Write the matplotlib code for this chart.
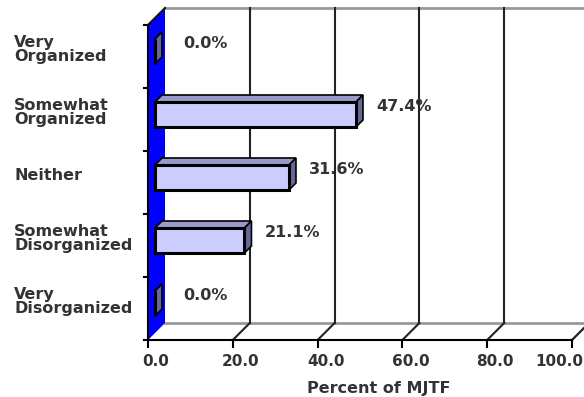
import matplotlib
matplotlib.use("Agg")
import matplotlib.pyplot as plt
from matplotlib.patches import Polygon

plt.rcParams['font.family'] = ['DejaVu Sans']

categories = ["Very\nOrganized", "Somewhat\nOrganized", "Neither",
              "Somewhat\nDisorganized", "Very\nDisorganized"]
values = [0.0, 47.4, 31.6, 21.1, 0.0]
value_labels = ["0.0%", "47.4%", "31.6%", "21.1%", "0.0%"]
xticks = [0, 20, 40, 60, 80, 100]
xtick_labels = ["0.0", "20.0", "40.0", "60.0", "80.0", "100.0"]
xlabel = "Percent of MJTF"

W, H = 584, 397
fig = plt.figure(figsize=(W / 100, H / 100), dpi=100)
x0px, x1px, ytop, ybot = 148, 572, 25, 340
ax = fig.add_axes([x0px / W, (H - ybot) / H, (x1px - x0px) / W, (ybot - ytop) / H])
ax.set_xlim(0, 100)
ax.set_ylim(4.5, -0.5)
ax.axis('off')

pxx = (x1px - x0px) / 100.0
pxy = (ybot - ytop) / 5.0
wdx, wdy = 17 / pxx, -17 / pxy        # wall depth
bfx, bfy = 7 / pxx, -5 / pxy          # bar front-face offset
bdx, bdy = 7 / pxx, -7 / pxy          # bar depth
bh = 25 / pxy                          # bar face height
txt = '#333333'
fs = 11.5

# back wall
ax.add_patch(Polygon([(wdx, -0.5 + wdy), (100 + wdx, -0.5 + wdy), (100 + wdx, 4.5 + wdy), (wdx, 4.5 + wdy)],
                     closed=True, facecolor='white', edgecolor='none', clip_on=False, zorder=1))
ax.plot([wdx, 100 + wdx], [-0.5 + wdy, -0.5 + wdy], color='#999999', lw=2, clip_on=False, zorder=2)
# floor
ax.add_patch(Polygon([(0, 4.5), (100, 4.5), (100 + wdx, 4.5 + wdy), (wdx, 4.5 + wdy)],
                     closed=True, facecolor='white', edgecolor='none', clip_on=False, zorder=1))
ax.plot([wdx, 100 + wdx], [4.5 + wdy, 4.5 + wdy], color='#999999', lw=2, clip_on=False, zorder=2)
ax.plot([100, 100 + wdx], [4.5, 4.5 + wdy], color='#999999', lw=1.5, clip_on=False, zorder=2)
# gridlines on back wall and floor
for t in xticks[1:]:
    ax.plot([t + wdx, t + wdx], [-0.5 + wdy, 4.5 + wdy], color='#222222', lw=1.5, clip_on=False, zorder=3)
    ax.plot([t, t + wdx], [4.5, 4.5 + wdy], color='#222222', lw=1.5, clip_on=False, zorder=3)
# blue side wall
ax.add_patch(Polygon([(0, -0.5), (0, 4.5), (wdx, 4.5 + wdy), (wdx, -0.5 + wdy)],
                     closed=True, facecolor='#0000FF', edgecolor='none', clip_on=False, zorder=4))
ax.plot([0, wdx], [-0.5, -0.5 + wdy], color='#111111', lw=1.5, clip_on=False, zorder=5)
# axes lines
ax.plot([0, 0], [-0.5, 4.5], color='black', lw=1.5, clip_on=False, zorder=6)
ax.plot([0, 100], [4.5, 4.5], color='black', lw=1.5, clip_on=False, zorder=6)
for i, (t, tl) in enumerate(zip(xticks, xtick_labels)):
    ax.plot([t, t], [4.5, 4.5 + 7 / pxy], color='black', lw=1.5, clip_on=False, zorder=6)
    if i == len(xticks) - 1:
        ax.text((583 - x0px) / pxx, 4.5 + 22 / pxy, tl, ha='right', va='center',
                fontsize=fs - 0.5, fontweight='bold', color=txt)
    else:
        ax.text(t + 8 / pxx, 4.5 + 22 / pxy, tl, ha='center', va='center',
                fontsize=fs - 0.5, fontweight='bold', color=txt)
for k in range(6):
    yb = -0.5 + k
    ax.plot([0, -4 / pxx], [yb, yb], color='black', lw=1.5, clip_on=False, zorder=6)

# bars
ys = list(range(len(values)))
fronty = [y + bfy for y in ys]
ax.barh(fronty, values, left=bfx, height=bh, color='#CCCCFF', edgecolor='black', lw=2.2, zorder=10)
for y, v in zip(fronty, values):
    top = y - bh / 2
    bot = y + bh / 2
    xe = bfx + v
    ax.add_patch(Polygon([(bfx, top), (xe, top), (xe + bdx, top + bdy), (bfx + bdx, top + bdy)],
                         closed=True, facecolor='#9999CC', edgecolor='black', lw=1.2, zorder=9))
    ax.add_patch(Polygon([(xe, top), (xe, bot), (xe + bdx, bot + bdy), (xe + bdx, top + bdy)],
                         closed=True, facecolor='#666699', edgecolor='black', lw=1.2, zorder=9))

# value labels
for y, v, lab in zip(ys, values, value_labels):
    lx = max(bfx + v + 20 / pxx, 35 / pxx)
    ax.text(lx, y - 0.2, lab, ha='left', va='center', fontsize=fs, fontweight='bold', color=txt, zorder=12)

# category labels
for y, c in zip(fronty, categories):
    ax.text(-134 / pxx, y - 2 / pxy, c, ha='left', va='center', fontsize=fs, fontweight='bold', color=txt,
            linespacing=0.92)

ax.text((379 - x0px) / pxx, 4.5 + 48 / pxy, xlabel, ha='center', va='center',
        fontsize=fs, fontweight='bold', color=txt)

fig.savefig('out.png', dpi=100)
